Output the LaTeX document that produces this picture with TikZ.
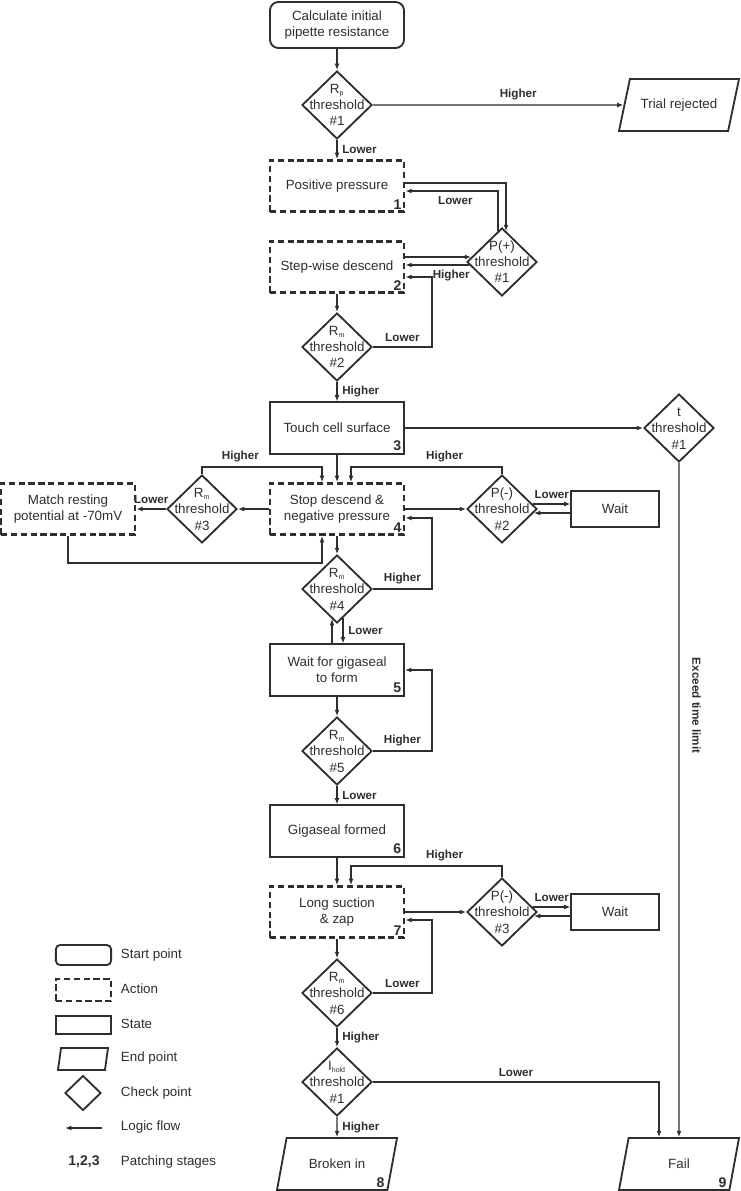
\documentclass[tikz,border=0pt]{standalone}
\usepackage{fontspec}
\setmainfont{Liberation Sans}
\usepackage{tikz}
\usetikzlibrary{shapes.geometric, arrows.meta, calc}

\definecolor{ink}{gray}{0.18}
% text of a check point, kept out of the diamond size
\newcommand{\chkt}[2]{\makebox[0pt]{\smash{\raisebox{-3.5pt}{\begin{tabular}[c]{@{}c@{}}#1\\threshold\\\##2\end{tabular}}}}}
\newcommand{\subs}[1]{\textsubscript{\fontsize{5}{5}\selectfont #1}}

\begin{document}
\begin{tikzpicture}[x=0.025cm, y=-0.025cm, color=ink,
  every node/.style={font=\fontsize{9.5}{11.4}\selectfont, align=center},
  box/.style={draw, line width=1.3pt, minimum width=3.35cm, minimum height=1.28cm},
  act/.style={box, dash pattern=on 4.5pt off 2.5pt, line width=1.9pt},
  startbox/.style={box, rounded corners=6pt, minimum height=1.15cm},
  wbox/.style={minimum width=2.18cm, minimum height=0.9cm},
  chk/.style={draw, diamond, line width=1.3pt, minimum width=1.75cm, minimum height=1.7cm, inner sep=0pt},
  endbox/.style={draw, trapezium, trapezium left angle=63.4, trapezium right angle=116.6,
    trapezium stretches body, line width=1.3pt, minimum width=3cm, minimum height=1.3cm},
  flow/.style={-{Latex[length=4.5pt,width=3.5pt]}, line width=0.9pt},
  lbl/.style={font=\fontsize{8.3}{10}\selectfont\bfseries},
  num/.style={font=\fontsize{10}{12}\selectfont\bfseries, anchor=south east, inner sep=2.5pt}
]
\useasboundingbox (0,0) rectangle (741,1191);

% main column
\node[startbox] (start) at (337,25) {Calculate initial\\pipette resistance};
\node[chk] (rp1) at (337,105) {\chkt{R\subs{p}}{1}};
\node[endbox] (rej) at (679,105) {Trial rejected};
\node[act, label={[num]south east:1}] (pp) at (337,186) {Positive pressure};
\node[chk] (pm1) at (502,262) {\chkt{P(+)}{1}};
\node[act, label={[num]south east:2}] (sw) at (337,267) {Step-wise descend};
\node[chk] (rm2) at (337,347) {\chkt{R\subs{m}}{2}};
\node[box, label={[num]south east:3}] (tc) at (337,428) {Touch cell surface};
\node[chk] (t1) at (679,428) {\chkt{t}{1}};
\node[act, label={[num]south east:4}] (sd) at (337,509) {Stop descend \&\\negative pressure};
\node[chk] (rm3) at (202,509) {\chkt{R\subs{m}}{3}};
\node[act] (mr) at (68,509) {Match resting\\potential at -70mV};
\node[chk] (pm2) at (502,509) {\chkt{P(-)}{2}};
\node[box, wbox] (w1) at (615,509) {Wait};
\node[chk] (rm4) at (337,589) {\chkt{R\subs{m}}{4}};
\node[box, label={[num]south east:5}] (wg) at (337,670) {Wait for gigaseal\\to form};
\node[chk] (rm5) at (337,751) {\chkt{R\subs{m}}{5}};
\node[box, label={[num]south east:6}] (gf) at (337,831) {Gigaseal formed};
\node[act, label={[num]south east:7}] (ls) at (337,912) {Long suction\\\& zap};
\node[chk] (pm3) at (502,912) {\chkt{P(-)}{3}};
\node[box, wbox] (w2) at (615,912) {Wait};
\node[chk] (rm6) at (337,993) {\chkt{R\subs{m}}{6}};
\node[chk] (ih) at (337,1082) {\chkt{I\subs{hold}}{1}};
\node[endbox] (bi) at (337,1164) {Broken in};
\node[num] (n8) at (bi.bottom right corner) {8};
\node[endbox] (fl) at (679,1164) {Fail};
\node[num] (n9) at (fl.bottom right corner) {9};

% flows
\draw[flow] (start) -- (rp1);
\draw[flow] (rp1) -- node[lbl, above, pos=0.58] {Higher} (rej);
\draw[flow] (rp1) -- node[lbl, right] {Lower} (pp);
\draw[flow] ($(pp.east)+(0,-3)$) -| ($(pm1.north)+(4,4)$);
\draw[flow] ($(pm1.north)+(-4,4)$) |- node[lbl, below, pos=0.73] {Lower} ($(pp.east)+(0,5)$);
\draw[flow] ($(sw.east)+(0,-10)$) -- ($(pm1.west)+(5,-5)$);
\draw[flow] ($(pm1.west)+(3,3)$) -- node[lbl, below, pos=0.28] {Higher} ($(sw.east)+(0,-2)$);
\draw[flow] (sw) -- (rm2);
\draw[flow] (rm2.east) -- node[lbl, above] {Lower} ++(59,0) |- ($(sw.east)+(0,10)$);
\draw[flow] (rm2) -- node[lbl, right] {Higher} (tc);
\draw[flow] (tc) -- (t1);
\draw[flow] (tc) -- (sd);
\draw[flow] (t1) -- node[lbl, rotate=-90, anchor=south, pos=0.36, inner sep=9pt] {Exceed time limit} (fl);

\draw[flow] (sd) -- (rm3);
\draw[flow] (rm3) -- node[lbl, above] {Lower} (mr);
\draw[flow] (rm3.north) -- ++(0,-7) -| node[lbl, above, pos=0.16] {Higher} ($(sd.north)+(-15,0)$);
\draw[flow] (mr.south) -- ++(0,27) -| ($(sd.south)+(-15,0)$);
\draw[flow] (sd) -- (pm2);
\draw[flow] (pm2.north) -- ++(0,-7) -| node[lbl, above, pos=0.19] {Higher} ($(sd.north)+(14,0)$);
\draw[flow] ($(pm2.east)+(-5,-5)$) -- node[lbl, above] {Lower} ($(w1.west)+(0,-5)$);
\draw[flow] ($(w1.west)+(0,4)$) -- ($(pm2.east)+(-4,4)$);
\draw[flow] (sd) -- (rm4);
\draw[flow] (rm4.east) -- node[lbl, above] {Higher} ++(59,0) |- ($(sd.east)+(0,9)$);
\draw[flow] ($(rm4.south)+(6,-6)$) -- node[lbl, right] {Lower} ($(wg.north)+(6,0)$);
\draw[flow] ($(wg.north)+(-5,0)$) -- ($(rm4.south)+(-5,-5)$);
\draw[flow] (wg) -- (rm5);
\draw[flow] (rm5.east) -- node[lbl, above] {Higher} ++(59,0) |- (wg.east);
\draw[flow] (rm5) -- node[lbl, right] {Lower} (gf);
\draw[flow] (gf) -- (ls);

\draw[flow] (ls) -- (pm3);
\draw[flow] (pm3.north) -- ++(0,-11) -| node[lbl, above, pos=0.19] {Higher} ($(ls.north)+(14,0)$);
\draw[flow] ($(pm3.east)+(-5,-5)$) -- node[lbl, above] {Lower} ($(w2.west)+(0,-5)$);
\draw[flow] ($(w2.west)+(0,4)$) -- ($(pm3.east)+(-4,4)$);
\draw[flow] (ls) -- (rm6);
\draw[flow] (rm6.east) -- node[lbl, above] {Lower} ++(59,0) |- ($(ls.east)+(0,8)$);
\draw[flow] (rm6) -- node[lbl, right] {Higher} (ih);
\draw[flow] (ih) -- node[lbl, right] {Higher} (bi);
\draw[flow] (ih.east) -| node[lbl, above, pos=0.25] {Lower} ($(fl.north)+(-20,0)$);

% legend
\node[startbox, minimum width=1.38cm, minimum height=0.5cm, rounded corners=3pt] (lg1) at (83.5,955) {};
\node[act, minimum width=1.38cm, minimum height=0.55cm] (lg2) at (83.5,990) {};
\node[box, minimum width=1.38cm, minimum height=0.45cm] (lg3) at (83.5,1025) {};
\node[endbox, trapezium left angle=72, trapezium right angle=108, minimum width=1.25cm, minimum height=0.55cm] (lg4) at (83,1059) {};
\node[chk, minimum width=0.9cm, minimum height=0.875cm] (lg5) at (83,1093) {};
\coordinate (lg6a) at (102,1128);
\coordinate (lg6b) at (65,1128);
\draw[flow] (lg6a) -- (lg6b);
\node[font=\fontsize{10}{12}\selectfont\bfseries] (lg7) at (84,1162) {1,2,3};
\node[anchor=west] (lt1) at (116,955) {Start point};
\node[anchor=west] (lt2) at (116,989) {Action};
\node[anchor=west] (lt3) at (116,1024) {State};
\node[anchor=west] (lt4) at (116,1058) {End point};
\node[anchor=west] (lt5) at (116,1093) {Check point};
\node[anchor=west] (lt6) at (116,1127) {Logic flow};
\node[anchor=west] (lt7) at (116,1162) {Patching stages};
\end{tikzpicture}
\end{document}
